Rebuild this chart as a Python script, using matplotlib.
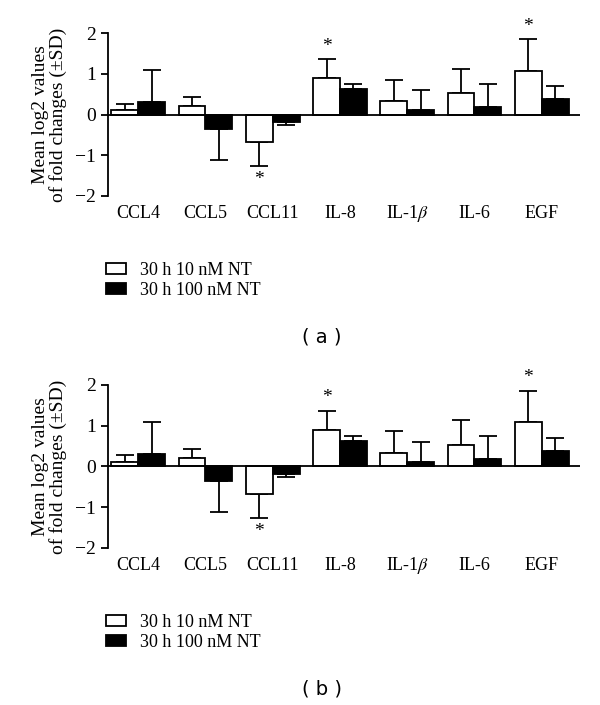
import numpy as np
import matplotlib.pyplot as plt

# cytokine categories and values
labels = ['CCL4', 'CCL5', 'CCL11', 'IL-8', r'IL-1$\beta$', 'IL-6', 'EGF']
mean_10nm = [0.12, 0.21, -0.67, 0.89, 0.34, 0.53, 1.08]
sd_10nm = [0.15, 0.22, 0.59, 0.48, 0.52, 0.60, 0.78]
mean_100nm = [0.30, -0.36, -0.18, 0.63, 0.12, 0.19, 0.38]
sd_100nm = [0.79, 0.75, 0.08, 0.12, 0.49, 0.56, 0.31]
# significant bars (10 nM series)
stars_10nm = ['CCL11', 'IL-8', 'EGF']
legend_labels = ['30 h 10 nM NT', '30 h 100 nM NT']

plt.rcParams['font.family'] = ['Liberation Serif', 'DejaVu Serif']
plt.rcParams['mathtext.fontset'] = 'stix'

fig = plt.figure(figsize=(6, 7.05), dpi=100)

x = np.arange(len(labels))
width = 0.4


def one_sided(means, sds):
    # error bar only in the direction of the bar
    lower = [s if m < 0 else 0 for m, s in zip(means, sds)]
    upper = [s if m >= 0 else 0 for m, s in zip(means, sds)]
    return [lower, upper]


def draw_panel(rect, tag, tag_y):
    ax = fig.add_axes(rect)
    ax.bar(x - width / 2, mean_10nm, width, color='white', edgecolor='black',
           linewidth=1.3, zorder=3, label=legend_labels[0])
    ax.bar(x + width / 2, mean_100nm, width, color='black', edgecolor='black',
           linewidth=1.3, zorder=3, label=legend_labels[1])
    ax.errorbar(x - width / 2, mean_10nm, yerr=one_sided(mean_10nm, sd_10nm),
                fmt='none', ecolor='black', elinewidth=1.3, capsize=6.5,
                capthick=1.3, zorder=2)
    ax.errorbar(x + width / 2, mean_100nm, yerr=one_sided(mean_100nm, sd_100nm),
                fmt='none', ecolor='black', elinewidth=1.3, capsize=6.5,
                capthick=1.3, zorder=2)
    # stars
    for i, lab in enumerate(labels):
        if lab in stars_10nm:
            m, s = mean_10nm[i], sd_10nm[i]
            end = m + s if m >= 0 else m - s
            off = 3 if m >= 0 else -4
            ax.annotate('*', (x[i] - width / 2, end), xytext=(0, off),
                        textcoords='offset points', ha='center',
                        va='bottom' if m >= 0 else 'top', fontsize=14)
    ax.axhline(0, color='black', linewidth=1.3, zorder=4)
    ax.set_xlim(-0.45, 6.57)
    ax.set_ylim(-2, 2)
    ax.set_yticks([-2, -1, 0, 1, 2])
    ax.set_yticklabels(['\u22122', '\u22121', '0', '1', '2'])
    ax.tick_params(axis='y', direction='out', length=5, width=1.3, labelsize=14)
    ax.set_xticks(x, labels)
    ax.tick_params(axis='x', length=0, labelsize=13, pad=16)
    for t in ax.get_xticklabels():
        t.set_verticalalignment('baseline')
    for sp in ['top', 'right', 'bottom']:
        ax.spines[sp].set_visible(False)
    ax.spines['left'].set_linewidth(1.3)
    ax.set_ylabel('Mean log2 values\nof fold changes (\u00b1SD)', fontsize=14,
                  linespacing=1.0, labelpad=6)
    ax.legend(loc='upper left', bbox_to_anchor=(-0.02, -0.36), frameon=False,
              fontsize=13, handlelength=1.1, handleheight=0.55,
              handletextpad=0.8, labelspacing=0.15, borderaxespad=0)
    fig.text(322 / 600, tag_y, tag, ha='center', va='center', fontsize=14,
             family='DejaVu Sans')
    return ax


draw_panel([0.18, 0.722, 0.7867, 0.231], '( a )', 1 - 337 / 705)
draw_panel([0.18, 0.2227, 0.7867, 0.2313], '( b )', 1 - 689 / 705)

fig.savefig('out.png', dpi=100)
